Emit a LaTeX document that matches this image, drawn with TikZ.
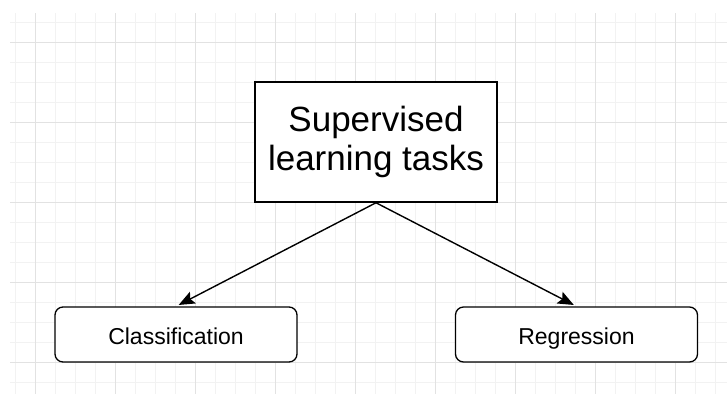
\documentclass[tikz,border=0pt]{standalone}
\usepackage{fontspec}
\setmainfont{Liberation Sans}
\usetikzlibrary{arrows.meta}
\definecolor{gridminor}{HTML}{F2F2F2}
\definecolor{gridmajor}{HTML}{E2E2E2}
\tikzset{
  every picture/.style={x=1pt,y=-1pt},
  taskbox/.style={draw=black,line width=1.5pt,fill=white,minimum width=242pt,
    minimum height=120pt,inner sep=0pt,align=center,
    font=\fontsize{35}{38.4}\selectfont},
  leafbox/.style={draw=black,line width=1.3pt,fill=white,rounded corners=8pt,
    minimum width=242pt,minimum height=55pt,inner sep=0pt,
    text height=19pt,text depth=0pt,
    font=\fontsize{23}{26}\selectfont},
  link/.style={line width=1.4pt,draw=black,shorten >=3pt,
    -{Stealth[length=16pt,width=13pt,inset=3pt]}},
}
\begin{document}
\begin{tikzpicture}
  \useasboundingbox[fill=white] (0,0) rectangle (727,394);
  % background grid: fine lines every 20, heavier ones every 80
  \foreach \gx in {15,35,...,715} \draw[gridminor,line width=1pt] (\gx,13) -- (\gx,394);
  \foreach \gy in {22,42,...,382} \draw[gridminor,line width=1pt] (10,\gy) -- (727,\gy);
  \foreach \gx in {35,115,...,675} \draw[gridmajor,line width=1pt] (\gx,13) -- (\gx,394);
  \foreach \gy in {42,122,...,362} \draw[gridmajor,line width=1pt] (10,\gy) -- (727,\gy);

  \node[taskbox] (task) at (376,142) {Supervised\\learning tasks};
  \node[leafbox] (cls) at (176,334.5) {Classification};
  \node[leafbox] (reg) at (576.5,334.5) {Regression};

  \draw[link] (task.south) -- (cls.north);
  \draw[link] (task.south) -- (reg.north);
\end{tikzpicture}
\end{document}
